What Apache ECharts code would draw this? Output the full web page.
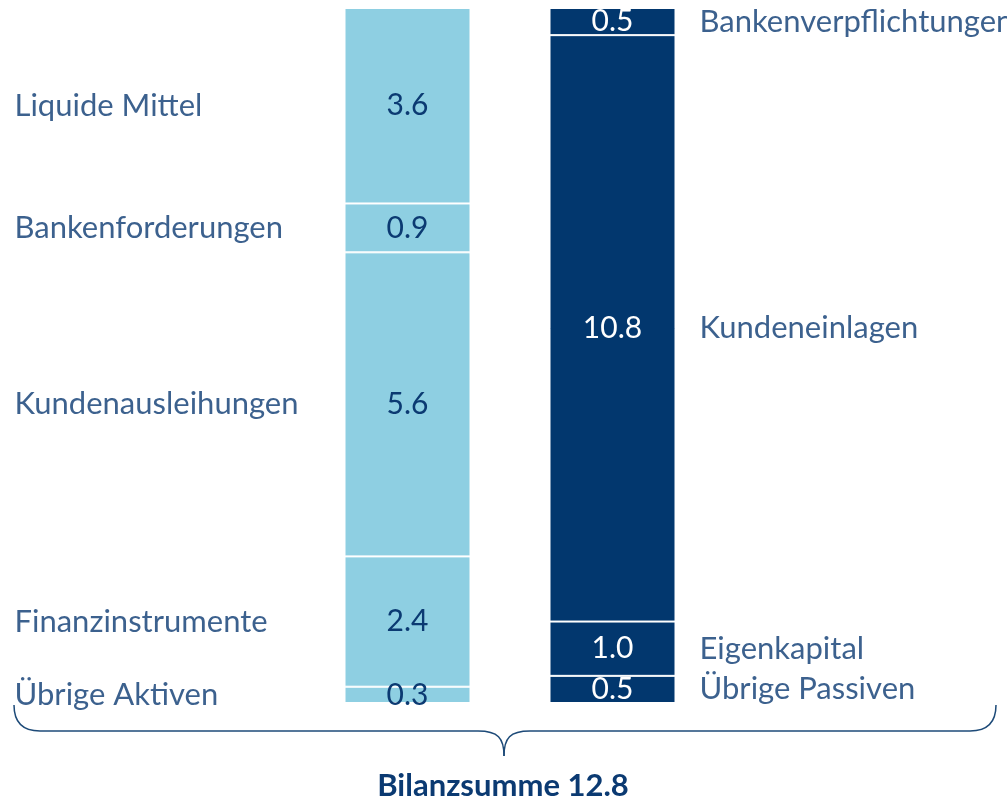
<!DOCTYPE html>
<html>
<head>
<meta charset="utf-8">
<script src="https://cdn.jsdelivr.net/npm/echarts@6/dist/echarts.min.js"></script>
<style>
  html, body { margin: 0; padding: 0; background: #fff; }
  #chart { width: 1007px; height: 797px; }
</style>
</head>
<body>
<div id="chart"></div>
<script>
// Bilanz: Aktiven (links) und Passiven (rechts), von oben nach unten
var sides = ['Aktiven', 'Passiven'];
var aktivenLabels = ['Liquide Mittel', 'Bankenforderungen', 'Kundenausleihungen', 'Finanzinstrumente', 'Übrige Aktiven'];
var aktivenValues = [3.6, 0.9, 5.6, 2.4, 0.3];
var passivenLabels = ['Bankenverpflichtungen', 'Kundeneinlagen', 'Eigenkapital', 'Übrige Passiven'];
var passivenValues = [0.5, 10.8, 1.0, 0.5];
var totalLabel = 'Bilanzsumme';
var totalValue = 12.8;

var lightBlue = '#8ecfe2';
var navy = '#02376e';
var textColor = '#0b3a72';
var fontName = 'Lato';

var chart = echarts.init(document.getElementById('chart'));

var series = [];
var nameDots = [];

function addSide(labels, values, idx, color, labelColor, nameOffset) {
    // stack bottom-up, so walk the list from the end
    var base = 0;
    for (var i = values.length - 1; i >= 0; i--) {
        var data = ['-', '-'];
        data[idx] = values[i];
        series.push({
            type: 'bar',
            stack: 'bilanz',
            barWidth: 126,
            data: data,
            itemStyle: { color: color, borderColor: '#fff', borderWidth: 1 },
            label: {
                show: true,
                position: 'inside',
                color: labelColor,
                fontFamily: fontName,
                fontSize: 30,
                formatter: function (p) { return p.value.toFixed(1); }
            },
            silent: true
        });
        nameDots.push({
            value: [sides[idx], base + values[i] / 2],
            name: labels[i],
            label: { offset: [nameOffset, 0] }
        });
        base += values[i];
    }
}

addSide(aktivenLabels, aktivenValues, 0, lightBlue, textColor, -393);
addSide(passivenLabels, passivenValues, 1, navy, '#ffffff', 87);

series.push({
    type: 'scatter',
    symbolSize: 0,
    data: nameDots,
    label: {
        show: true,
        position: 'inside',
        align: 'left',
        color: textColor,
        fontFamily: fontName,
        fontSize: 31,
        formatter: '{b}'
    },
    silent: true,
    z: 5
});

// geschweifte Klammer unter beiden Balken
var braceStyle = { fill: null, stroke: '#1d4a78', lineWidth: 1.5 };
var brace = [
    { type: 'bezierCurve', shape: { x1: 14, y1: 705, cpx1: 14, cpy1: 731, x2: 40, y2: 731 } },
    { type: 'line', shape: { x1: 40, y1: 731, x2: 478, y2: 731 } },
    { type: 'bezierCurve', shape: { x1: 478, y1: 731, cpx1: 498, cpy1: 731, cpx2: 504, cpy2: 738, x2: 504, y2: 756 } },
    { type: 'bezierCurve', shape: { x1: 504, y1: 756, cpx1: 504, cpy1: 738, cpx2: 510, cpy2: 731, x2: 530, y2: 731 } },
    { type: 'line', shape: { x1: 530, y1: 731, x2: 970, y2: 731 } },
    { type: 'bezierCurve', shape: { x1: 970, y1: 731, cpx1: 996, cpy1: 731, x2: 996, y2: 705 } }
];
brace.forEach(function (b) { b.style = braceStyle; b.silent = true; });

var option = {
    animation: false,
    grid: { left: 305, right: 292, top: 8, bottom: 94 },
    xAxis: {
        type: 'category',
        data: sides,
        show: false
    },
    yAxis: {
        type: 'value',
        min: 0,
        max: totalValue,
        show: false
    },
    graphic: brace.concat([
        {
            type: 'text',
            x: 503,
            y: 786,
            style: {
                text: totalLabel + ' ' + totalValue.toFixed(1),
                fill: textColor,
                align: 'center',
                verticalAlign: 'middle',
                font: 'bold 31px ' + fontName
            }
        }
    ]),
    series: series
};
chart.setOption(option);
</script>
</body>
</html>
